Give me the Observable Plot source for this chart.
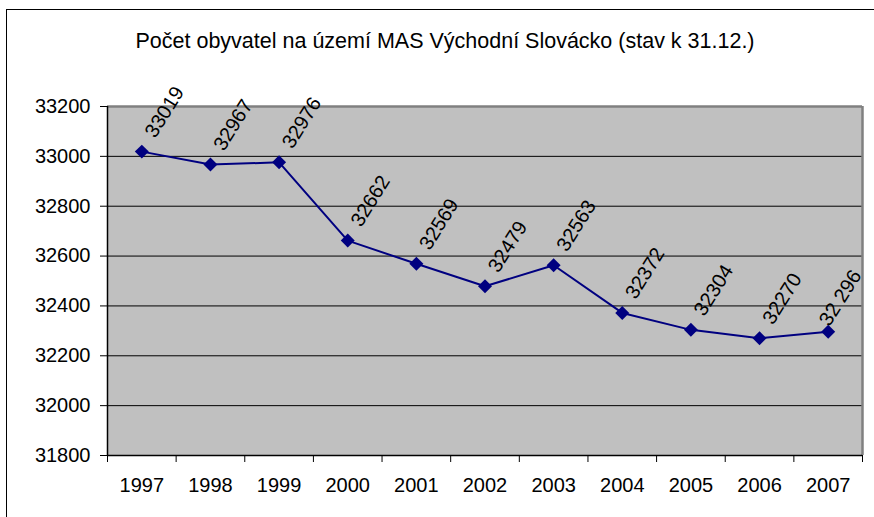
<!DOCTYPE html>
<html>
<head>
<meta charset="utf-8">
<script src="https://cdn.jsdelivr.net/npm/d3@7"></script>
<script src="https://cdn.jsdelivr.net/npm/@observablehq/plot@0.6"></script>
<style>
  html, body { margin: 0; padding: 0; background: #fff; }
  #wrap { position: relative; width: 874px; height: 517px; overflow: hidden; font-family: "Liberation Sans", Arial, sans-serif; }
  #border { position: absolute; left: 6px; top: 9px; width: 900px; height: 540px; border: 1.5px solid #000; box-sizing: border-box; }
  #title { position: absolute; left: 0; width: 890px; top: 28px; line-height: 26px; text-align: center; font-size: 21.5px; color: #000; }
  #chart { position: absolute; left: 0; top: 0; }
</style>
</head>
<body>
<div id="wrap">
  <div id="border"></div>
  <div id="title">Počet obyvatel na území MAS Východní Slovácko (stav k 31.12.)</div>
  <div id="chart"></div>
</div>
<script>
const years = ["1997","1998","1999","2000","2001","2002","2003","2004","2005","2006","2007"];
const population = [33019, 32967, 32976, 32662, 32569, 32479, 32563, 32372, 32304, 32270, 32296];
const valueLabels = ["33019","32967","32976","32662","32569","32479","32563","32372","32304","32270","32 296"];
const yTicks = [31800, 32000, 32200, 32400, 32600, 32800, 33000, 33200];
const gridValues = [32000, 32200, 32400, 32600, 32800, 33000];

const data = years.map((y, i) => ({i, year: y, value: population[i], label: valueLabels[i]}));
const n = years.length;
const boundaries = d3.range(-0.5, n, 1);
const shortLabels = data.filter(d => !d.label.includes(" "));
const longLabels = data.filter(d => d.label.includes(" "));

const chart = Plot.plot({
  width: 874,
  height: 517,
  marginLeft: 107,
  marginRight: 12,
  marginTop: 106,
  marginBottom: 62,
  style: {fontFamily: "'Liberation Sans', Arial, sans-serif", fontSize: "20px", background: "transparent", overflow: "visible"},
  x: {type: "linear", domain: [-0.5, n - 0.5], axis: null, label: null},
  y: {domain: [31800, 33200], axis: null, label: null},
  marks: [
    Plot.frame({fill: "#C0C0C0", stroke: "none"}),
    Plot.ruleY(gridValues, {stroke: "#000", strokeWidth: 1}),
    Plot.ruleY([33200], {stroke: "#808080", strokeWidth: 2.5}),
    Plot.ruleX([n - 0.5], {stroke: "#808080", strokeWidth: 2.5}),
    Plot.ruleY([31800], {stroke: "#000", strokeWidth: 1.5}),
    Plot.ruleX([-0.5], {stroke: "#000", strokeWidth: 1.5}),
    Plot.axisY({ticks: yTicks, tickSize: 7, tickPadding: 10, tickFormat: d => String(d), fontSize: 20, stroke: "#000", color: "#000", label: null}),
    Plot.axisX({ticks: boundaries, tickSize: 7, tickFormat: () => "", stroke: "#000", label: null}),
    Plot.axisX({ticks: d3.range(n), tickSize: 0, tickPadding: 22, tickFormat: i => years[i], fontSize: 20, color: "#000", label: null}),
    Plot.line(data, {x: "i", y: "value", stroke: "#000080", strokeWidth: 2}),
    Plot.dot(data, {x: "i", y: "value", symbol: "diamond2", r: 6.3, fill: "#000080", stroke: "none"}),
    Plot.text(shortLabels, {x: "i", y: "value", text: "label", rotate: -58, textAnchor: "start", dx: 8, dy: -16, fontSize: 20, fill: "#000"}),
    Plot.text(longLabels, {x: "i", y: "value", text: "label", rotate: -58, textAnchor: "start", dx: -4, dy: -8, fontSize: 20, fill: "#000"})
  ]
});
document.getElementById("chart").appendChild(chart);
</script>
</body>
</html>
